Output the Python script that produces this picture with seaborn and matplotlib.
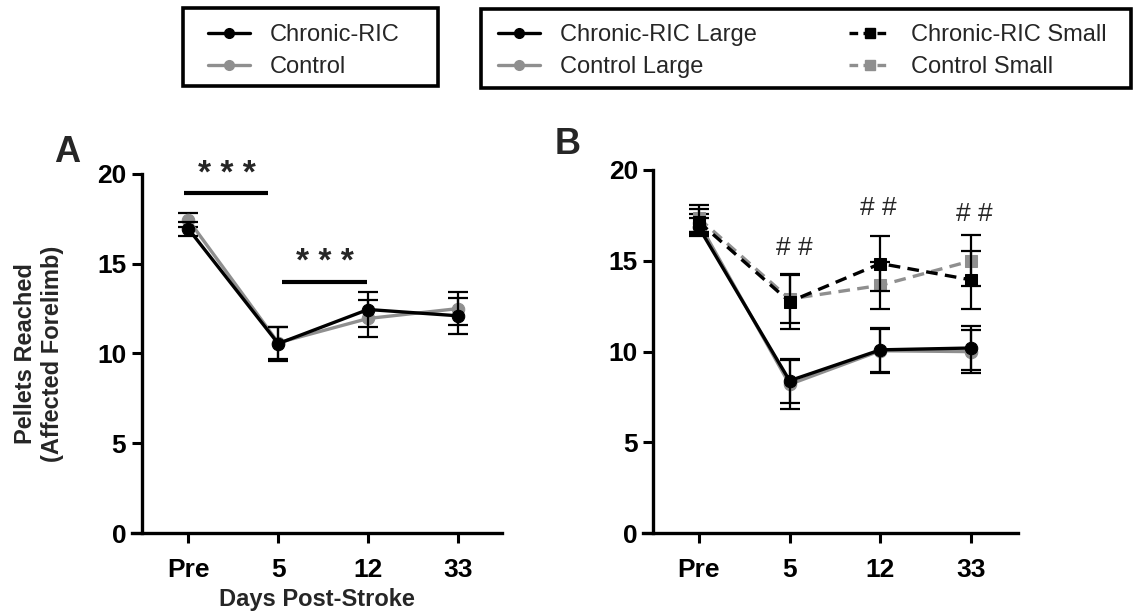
import matplotlib
matplotlib.use("Agg")
import matplotlib.pyplot as plt
import seaborn as sns
import numpy as np
import pandas as pd
from matplotlib.lines import Line2D
from matplotlib.patches import Rectangle

# ---------------- data ----------------
days = ["Pre", "5", "12", "33"]

# Panel A
ric_mean = [16.95, 10.55, 12.45, 12.10]
ric_sem = [0.40, 0.95, 1.00, 1.00]
ctl_mean = [17.45, 10.60, 11.95, 12.50]
ctl_sem = [0.40, 0.90, 1.05, 0.90]

# Panel B
ric_large_mean = [16.85, 8.40, 10.10, 10.20]
ric_large_sem = [0.50, 1.20, 1.20, 1.20]
ctl_large_mean = [17.10, 8.20, 10.05, 10.00]
ctl_large_sem = [0.50, 1.35, 1.20, 1.20]
ric_small_mean = [17.15, 12.75, 14.85, 13.95]
ric_small_sem = [0.70, 1.50, 1.50, 1.60]
ctl_small_mean = [17.35, 12.90, 13.65, 15.00]
ctl_small_sem = [0.75, 1.30, 1.30, 1.40]

legend_a = ["Chronic-RIC", "Control"]
legend_b = ["Chronic-RIC Large", "Control Large", "Chronic-RIC Small", "Control Small"]

BLACK = "#000000"
GRAY = "#8f8f8f"
W, H = 1133, 613

sns.set_theme(style="ticks")
plt.rcParams["font.family"] = ["Liberation Sans", "DejaVu Sans"]

fig = plt.figure(figsize=(W / 100, H / 100), dpi=100)
axA = fig.add_axes([131.7 / W, 0.1305, 0.3268, 0.5857])
axB = fig.add_axes([643.3 / W, 0.1300, 0.3304, 0.5927])

xpos = np.arange(len(days))

def draw_series(ax, mean, sem, color, marker, dashed, ms, z):
    df = pd.DataFrame({"x": xpos, "y": mean})
    ax.errorbar(xpos, mean, yerr=sem, fmt="none", ecolor=BLACK, elinewidth=1.6,
                capsize=7, capthick=1.6, zorder=z - 1)
    sns.lineplot(data=df, x="x", y="y", ax=ax, color=color, marker=marker,
                 markersize=ms, markeredgecolor=color, linewidth=2.4,
                 linestyle="--" if dashed else "-", zorder=z)
    if dashed:
        ax.lines[-1].set_dashes([3.5, 2.2])

# Panel A
draw_series(axA, ctl_mean, ctl_sem, GRAY, "o", False, 9, 3)
draw_series(axA, ric_mean, ric_sem, BLACK, "o", False, 9, 5)

# Panel B
draw_series(axB, ctl_large_mean, ctl_large_sem, GRAY, "o", False, 9, 3)
draw_series(axB, ric_large_mean, ric_large_sem, BLACK, "o", False, 9, 5)
draw_series(axB, ctl_small_mean, ctl_small_sem, GRAY, "s", True, 8, 4)
draw_series(axB, ric_small_mean, ric_small_sem, BLACK, "s", True, 8, 6)

for ax, xl, sp in ((axA, (-0.63, 3.49), -0.52), (axB, (-0.61, 3.51), -0.50)):
    ax.set_xlim(*xl)
    ax.set_ylim(0, 20)
    ax.spines["left"].set_position(("data", sp))
    ax.set_xticks(xpos)
    ax.set_xticklabels(days)
    ax.set_yticks([0, 5, 10, 15, 20])
    ax.tick_params(axis="both", length=7, width=2.2, labelsize=19, pad=4, colors=BLACK)
    ax.tick_params(axis="x", pad=11)
    for lab in ax.get_xticklabels() + ax.get_yticklabels():
        lab.set_fontweight("bold")
    for s in ("top", "right"):
        ax.spines[s].set_visible(False)
    for s in ("left", "bottom"):
        ax.spines[s].set_linewidth(2.4)
        ax.spines[s].set_color(BLACK)
    ax.set_xlabel("")
    ax.set_ylabel("")
    ax.set_facecolor("white")
    ax.patch.set_alpha(0)

axA.set_xlabel("Days Post-Stroke", fontsize=17, fontweight="bold", labelpad=4)
axA.set_ylabel("Pellets Reached\n(Affected Forelimb)", fontsize=17,
               fontweight="bold", labelpad=24, linespacing=1.2)

# significance markers panel A
axA.plot([-0.05, 0.89], [18.93, 18.93], color=BLACK, lw=3, clip_on=False, solid_capstyle="butt")
axA.text(0.43, 19.95, "* * *", ha="center", va="center", fontsize=24, fontweight="bold", clip_on=False)
axA.plot([1.04, 1.99], [14.0, 14.0], color=BLACK, lw=3, solid_capstyle="butt")
axA.text(1.52, 15.05, "* * *", ha="center", va="center", fontsize=24, fontweight="bold")

# panel B hash markers
for hx, hy in ((1.05, 15.7), (1.98, 17.9), (3.03, 17.6)):
    axB.text(hx, hy, "# #", ha="center", va="center", fontsize=19, clip_on=False)

# panel letters
fig.text(67 / W, 1 - 153 / H, "A", fontsize=26, fontweight="bold", ha="center", va="center")
fig.text(568 / W, 1 - 145 / H, "B", fontsize=26, fontweight="bold", ha="center", va="center")

# legends: frames drawn as rectangles, contents as frameless legends
def frame(x0, y0, x1, y1):
    fig.patches.append(Rectangle((x0 / W, 1 - y1 / H), (x1 - x0) / W, (y1 - y0) / H,
                                 transform=fig.transFigure, fill=True, facecolor="white",
                                 edgecolor=BLACK, linewidth=2.6, zorder=0))

frame(183, 8, 438, 86)
frame(481, 9, 1131, 88)

def handle(color, marker, dashed, ms):
    h = Line2D([], [], color=color, marker=marker, markersize=ms, lw=2.4,
               markeredgecolor=color, linestyle="--" if dashed else "-")
    if dashed:
        h.set_dashes([2.6, 1.6])
    return h

common = dict(frameon=False, borderaxespad=0, borderpad=0, fontsize=17,
              handlelength=1.78, handletextpad=0.85, labelspacing=0.42, loc="center left")
h1 = [handle(BLACK, "o", False, 7), handle(GRAY, "o", False, 7)]
fig.legend(h1, legend_a, bbox_to_anchor=(208 / W, 1 - 51 / H), **common)
h2 = [handle(BLACK, "o", False, 7), handle(GRAY, "o", False, 7),
      handle(BLACK, "s", True, 7), handle(GRAY, "s", True, 7)]
fig.legend(h2, legend_b, ncol=2, columnspacing=3.9,
           bbox_to_anchor=(498 / W, 1 - 51 / H), **common)

fig.savefig("out.png", dpi=100, facecolor="white")
